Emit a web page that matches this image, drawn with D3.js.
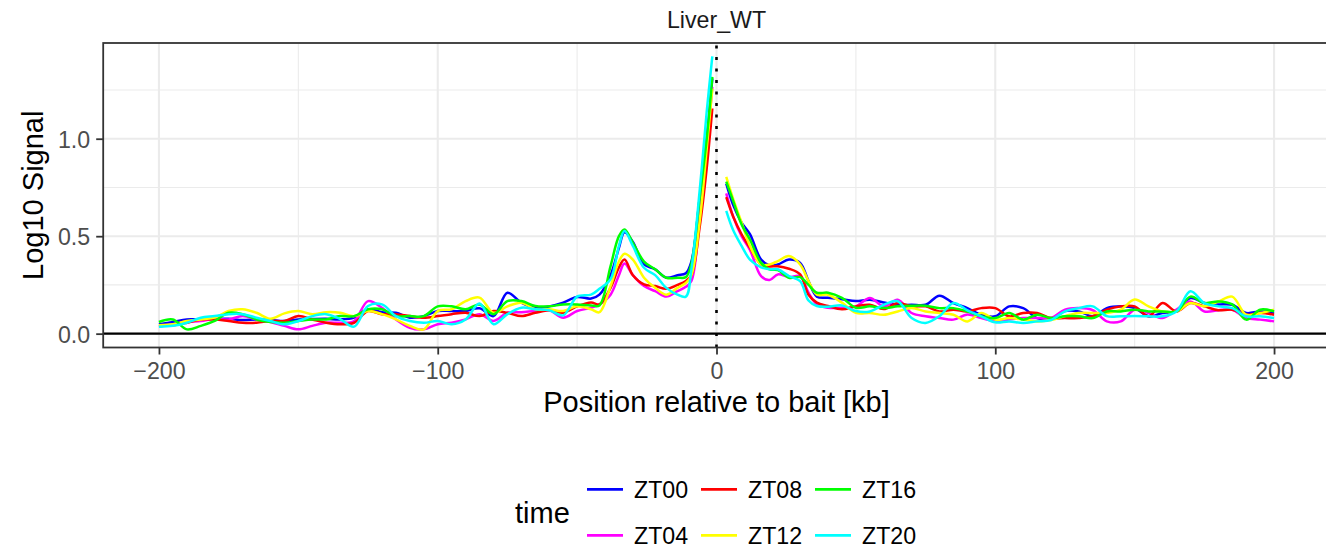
<!DOCTYPE html>
<html>
<head>
<meta charset="utf-8">
<script src="https://cdn.jsdelivr.net/npm/d3@7"></script>
<style>
  html, body { margin: 0; padding: 0; background: #fff; }
  svg { display: block; font-family: "Liberation Sans", Arial, sans-serif; }
</style>
</head>
<body>
<svg id="chart" width="1326" height="550"></svg>
<script>
// ---------------- data ----------------
const facetTitle = "Liver_WT";
const xTitle = "Position relative to bait [kb]";
const yTitle = "Log10 Signal";
const legendTitle = "time";
const xTicks = [-200, -100, 0, 100, 200];
const xTickLabels = ["\u2212200", "\u2212100", "0", "100", "200"];
const yTicks = [0, 0.5, 1.0];
const yTickLabels = ["0.0", "0.5", "1.0"];
const seriesNames = ["ZT00", "ZT04", "ZT08", "ZT12", "ZT16", "ZT20"];
const seriesColors = ["#0000FF", "#FF00FF", "#FF0000", "#FFFF00", "#00FF00", "#00FFFF"];

// positions (kb) left of bait, then right of bait
const positions = [
  -200,-195,-190,-185,-180,-175,-170,-165,-160,-155,-150,-145,-140,-135,-130,-125,-120,-115,-110,-105,
  -100,-95,-90,-85,-80,-75,-70,-65,-60,-55,-50,-45,-42,-38,-35,-33,-30,-26,-22,-18,-14,-11,-9,-6,-3.5,-1.5,
  3.5,6,9,12,16,19,22,26,30,33,36,40,45,
  50,55,60,65,70,75,80,85,90,95,100,105,110,115,120,125,130,135,140,145,150,155,160,165,170,175,180,185,190,195,200
];

const zt00 = [
  .048,.06,.073,.073,.076,.076,.07,.073,.07,.065,.073,.075,.076,.073,.082,.125,.11,.107,.082,.09,
  .116,.116,.116,.13,.09,.21,.159,.133,.14,.159,.188,.18,.2,.30,.44,.52,.47,.355,.33,.287,.30,.31,.37,.70,1.0,1.31,
  .77,.66,.57,.51,.38,.35,.355,.38,.363,.27,.19,.184,.176,
  .167,.174,.16,.148,.148,.148,.195,.157,.131,.097,.089,.14,.131,.08,.075,.116,.114,.09,.131,.14,.131,.089,.106,.114,.183,.157,.15,.148,.106,.114,.106
];
const zt04 = [
  .036,.048,.06,.065,.076,.073,.09,.073,.06,.04,.022,.04,.056,.056,.065,.167,.133,.073,.03,.022,
  .048,.056,.073,.1,.065,.107,.11,.116,.12,.082,.116,.133,.15,.2,.30,.36,.30,.244,.218,.19,.218,.24,.27,.6,.95,1.266,
  .72,.6,.5,.43,.295,.275,.304,.29,.295,.21,.15,.133,.133,
  .14,.183,.14,.174,.106,.089,.08,.072,.098,.08,.063,.072,.08,.08,.08,.123,.131,.12,.063,.063,.123,.106,.08,.123,.165,.114,.12,.123,.08,.072,.063
];
const zt08 = [
  .04,.043,.056,.073,.073,.065,.056,.056,.065,.065,.09,.073,.056,.048,.056,.116,.1,.1,.09,.082,
  .09,.1,.107,.09,.116,.107,.09,.107,.12,.107,.14,.16,.15,.235,.34,.38,.30,.253,.244,.23,.25,.27,.3,.55,.85,1.155,
  .70,.6,.51,.44,.355,.345,.346,.333,.304,.2,.159,.142,.125,
  .14,.148,.126,.157,.14,.14,.114,.123,.114,.131,.131,.089,.106,.106,.08,.08,.08,.09,.123,.14,.14,.089,.157,.114,.157,.14,.12,.123,.097,.106,.097
];
const zt12 = [
  .043,.048,.065,.073,.082,.116,.125,.107,.076,.104,.116,.1,.11,.107,.09,.116,.1,.073,.04,.022,
  .116,.125,.167,.185,.107,.14,.159,.125,.125,.116,.14,.125,.11,.244,.37,.41,.38,.287,.235,.2,.235,.26,.3,.58,.95,1.257,
  .804,.69,.57,.45,.355,.355,.372,.398,.355,.27,.2,.2,.159,
  .107,.106,.097,.114,.131,.114,.106,.097,.063,.106,.072,.08,.072,.063,.07,.09,.106,.106,.106,.123,.175,.14,.114,.114,.157,.14,.165,.19,.097,.106,.123
];
const zt16 = [
  .06,.073,.022,.04,.065,.107,.1,.073,.06,.056,.065,.073,.073,.09,.09,.125,.125,.09,.09,.09,
  .14,.14,.125,.15,.1,.167,.167,.142,.14,.15,.15,.145,.145,.346,.5,.534,.466,.37,.33,.287,.287,.29,.36,.70,1.0,1.317,
  .78,.68,.56,.483,.363,.33,.326,.287,.29,.25,.21,.21,.184,
  .133,.14,.131,.14,.143,.143,.131,.131,.114,.089,.08,.106,.072,.097,.08,.089,.089,.08,.114,.114,.123,.114,.114,.114,.19,.157,.165,.15,.072,.123,.114
];
const zt20 = [
  .036,.04,.056,.082,.09,.1,.1,.082,.065,.048,.065,.09,.1,.075,.036,.142,.15,.09,.065,.056,
  .065,.048,.073,.155,.048,.1,.133,.125,.12,.094,.19,.2,.23,.28,.45,.526,.45,.338,.30,.235,.2,.19,.33,.74,1.14,1.423,
  .63,.53,.45,.38,.34,.33,.33,.295,.27,.17,.142,.138,.145,
  .116,.114,.148,.166,.08,.055,.09,.157,.12,.089,.058,.063,.055,.063,.07,.114,.131,.14,.09,.089,.09,.089,.089,.114,.217,.157,.14,.131,.089,.089,.08
];
const seriesValues = [zt00, zt04, zt08, zt12, zt16, zt20];

// ---------------- layout ----------------
const W = 1326, H = 550;
const panel = { left: 103.2, right: 1329.8, top: 43, bottom: 347.5 };
const baseFont = 29, smallFont = 23.2;

const svg = d3.select("#chart");
svg.append("rect").attr("width", W).attr("height", H).attr("fill", "#fff");

const x = d3.scaleLinear().domain([-220, 220]).range([panel.left, panel.right]);
const y = d3.scaleLinear().domain([-0.071, 1.491]).range([panel.bottom, panel.top]);

const g = svg.append("g");

// panel background
g.append("rect")
  .attr("x", panel.left).attr("y", panel.top)
  .attr("width", panel.right - panel.left).attr("height", panel.bottom - panel.top)
  .attr("fill", "#fff");

// minor grid
const xMinor = [-150, -50, 50, 150];
const yMinor = [0.25, 0.75, 1.25];
g.selectAll(".xminor").data(xMinor).enter().append("line")
  .attr("x1", d => x(d)).attr("x2", d => x(d)).attr("y1", panel.top).attr("y2", panel.bottom)
  .attr("stroke", "#EBEBEB").attr("stroke-width", 1.1);
g.selectAll(".yminor").data(yMinor).enter().append("line")
  .attr("y1", d => y(d)).attr("y2", d => y(d)).attr("x1", panel.left).attr("x2", panel.right)
  .attr("stroke", "#EBEBEB").attr("stroke-width", 1.1);
// major grid
g.selectAll(".xmajor").data(xTicks).enter().append("line")
  .attr("x1", d => x(d)).attr("x2", d => x(d)).attr("y1", panel.top).attr("y2", panel.bottom)
  .attr("stroke", "#EBEBEB").attr("stroke-width", 2.1);
g.selectAll(".ymajor").data(yTicks).enter().append("line")
  .attr("y1", d => y(d)).attr("y2", d => y(d)).attr("x1", panel.left).attr("x2", panel.right)
  .attr("stroke", "#EBEBEB").attr("stroke-width", 2.1);

// lines
const clipId = "panelclip";
svg.append("clipPath").attr("id", clipId).append("rect")
  .attr("x", panel.left).attr("y", panel.top)
  .attr("width", panel.right - panel.left).attr("height", panel.bottom - panel.top);

const lineGen = d3.line()
  .x(d => x(d[0])).y(d => y(d[1]))
  .curve(d3.curveCatmullRom.alpha(0.5));

const linesG = g.append("g").attr("clip-path", `url(#${clipId})`);
seriesValues.forEach((vals, i) => {
  const pts = positions.map((p, j) => [p, vals[j]]);
  const left = pts.filter(d => d[0] < 0);
  const right = pts.filter(d => d[0] > 0);
  [left, right].forEach(seg => {
    linesG.append("path")
      .attr("d", lineGen(seg))
      .attr("fill", "none")
      .attr("stroke", seriesColors[i])
      .attr("stroke-width", 2.5)
      .attr("stroke-linejoin", "round")
      .attr("stroke-linecap", "butt");
  });
});

// reference lines
g.append("line")
  .attr("x1", panel.left).attr("x2", panel.right).attr("y1", y(0)).attr("y2", y(0))
  .attr("stroke", "#000").attr("stroke-width", 2.4);
g.append("line")
  .attr("x1", x(0)).attr("x2", x(0)).attr("y1", panel.bottom).attr("y2", panel.top)
  .attr("stroke", "#000").attr("stroke-width", 2.6)
  .attr("stroke-dasharray", "2.9,8.6");

// panel border
g.append("rect")
  .attr("x", panel.left).attr("y", panel.top)
  .attr("width", panel.right - panel.left).attr("height", panel.bottom - panel.top)
  .attr("fill", "none").attr("stroke", "#333333").attr("stroke-width", 1.8);

// axes
const xAxis = d3.axisBottom(x).tickValues(xTicks)
  .tickFormat((d, i) => xTickLabels[i]).tickSize(7).tickPadding(4);
const xg = svg.append("g").attr("transform", `translate(0,${panel.bottom})`).call(xAxis);
xg.select(".domain").remove();
xg.selectAll(".tick line").attr("stroke", "#333333").attr("stroke-width", 1.8);
xg.selectAll(".tick text")
  .attr("fill", "#4D4D4D").attr("font-size", smallFont)
  .attr("font-family", "Liberation Sans, Arial, sans-serif")
  .attr("dy", null).attr("y", 31.8);

const yAxis = d3.axisLeft(y).tickValues(yTicks)
  .tickFormat((d, i) => yTickLabels[i]).tickSize(7).tickPadding(6);
const yg = svg.append("g").attr("transform", `translate(${panel.left},0)`).call(yAxis);
yg.select(".domain").remove();
yg.selectAll(".tick line").attr("stroke", "#333333").attr("stroke-width", 1.8);
yg.selectAll(".tick text")
  .attr("fill", "#4D4D4D").attr("font-size", smallFont)
  .attr("font-family", "Liberation Sans, Arial, sans-serif")
  .attr("x", -13).attr("dy", "0.36em");

// titles
const mid = (panel.left + 1329.8) / 2;
svg.append("text").text(facetTitle)
  .attr("x", x(0)).attr("y", 28.3).attr("text-anchor", "middle")
  .attr("font-size", smallFont).attr("fill", "#1A1A1A");
svg.append("text").text(xTitle)
  .attr("x", x(0)).attr("y", 411.7).attr("text-anchor", "middle")
  .attr("font-size", baseFont).attr("fill", "#000");
svg.append("text").text(yTitle)
  .attr("transform", `translate(43,${(panel.top + panel.bottom) / 2}) rotate(-90)`)
  .attr("text-anchor", "middle")
  .attr("font-size", baseFont).attr("fill", "#000");

// legend
const legend = svg.append("g");
legend.append("text").text(legendTitle)
  .attr("x", 515).attr("y", 523.3).attr("font-size", baseFont).attr("fill", "#000");
const colX = [587, 701, 815];
const rowY = [489.3, 535.3];
seriesNames.forEach((name, i) => {
  const col = Math.floor(i / 2), row = i % 2;
  const lx = colX[col], ly = rowY[row];
  legend.append("line")
    .attr("x1", lx).attr("x2", lx + 36).attr("y1", ly).attr("y2", ly)
    .attr("stroke", seriesColors[i]).attr("stroke-width", 2.7);
  legend.append("text").text(name)
    .attr("x", lx + 47).attr("y", ly + 8.2)
    .attr("font-size", smallFont).attr("fill", "#000");
});
</script>
</body>
</html>
